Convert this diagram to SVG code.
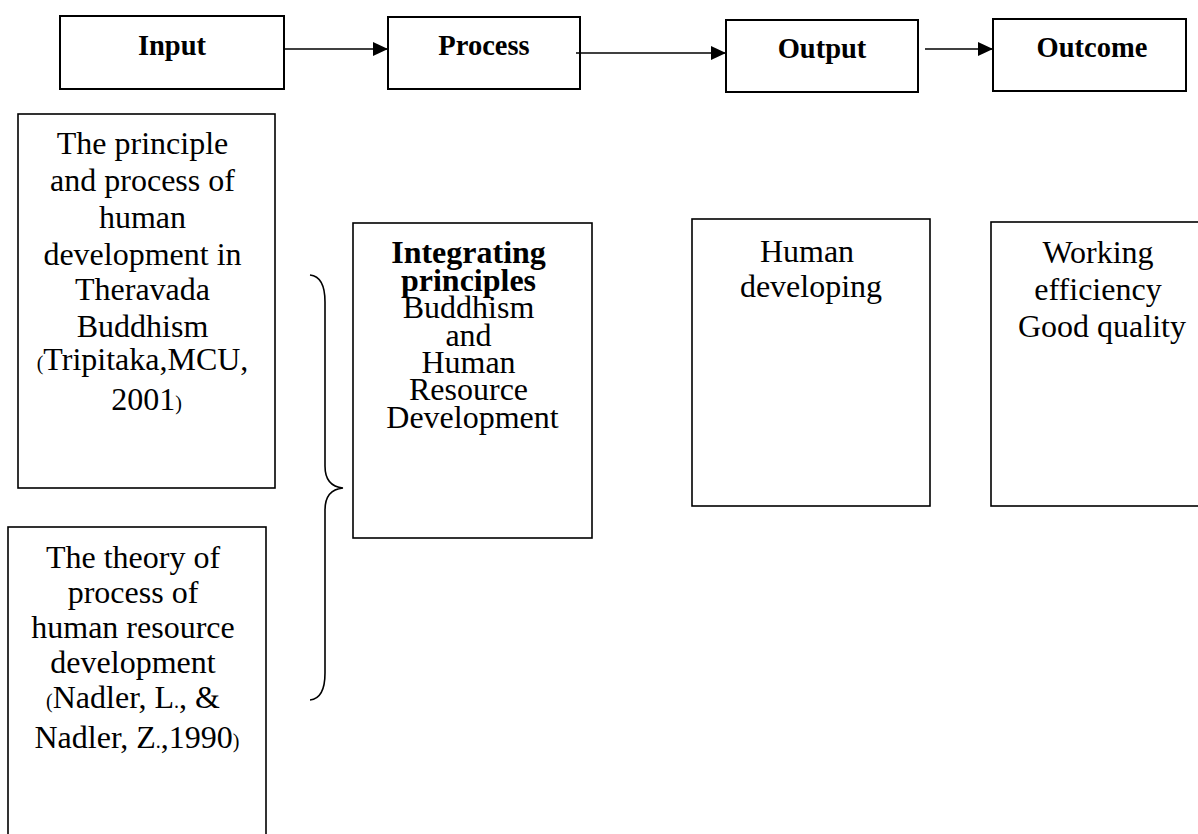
<svg xmlns="http://www.w3.org/2000/svg" width="1198" height="834" viewBox="0 0 1198 834">
<defs>
<style>
.box{fill:#fff;stroke:#000;stroke-width:2}
.tbox{fill:#fff;stroke:#000;stroke-width:1.6}
.hdr{font-family:"Liberation Serif","Times New Roman",serif;font-weight:bold;font-size:28.5px;fill:#000;text-anchor:middle}
.txt{font-family:"Liberation Serif","Times New Roman",serif;font-size:32px;fill:#000;text-anchor:middle}
.b{font-weight:bold}
.sm{font-size:20px}
.conn{stroke:#000;stroke-width:1.6;fill:none}
</style>
<marker id="ah" markerUnits="userSpaceOnUse" markerWidth="16" markerHeight="14" refX="15" refY="7" orient="auto">
<path d="M0,0 L15,7 L0,14 z" fill="#000"/>
</marker>
</defs>
<rect width="1198" height="834" fill="#fff"/>

<g id="input">
<rect class="box" x="60" y="16" width="224" height="73"/>
<text class="hdr" x="172" y="55">Input</text>
</g>
<g id="process">
<rect class="box" x="388" y="17" width="192" height="72"/>
<text class="hdr" x="484" y="55">Process</text>
</g>
<g id="output">
<rect class="box" x="726" y="20" width="192" height="72"/>
<text class="hdr" x="822" y="58">Output</text>
</g>
<g id="outcome">
<rect class="box" x="993" y="19" width="193" height="72"/>
<text class="hdr" x="1092" y="57">Outcome</text>
</g>

<g id="buddhism-input">
<rect class="tbox" x="18" y="114" width="257" height="374"/>
<text class="txt">
<tspan x="146.5" y="154">The principle</tspan>
<tspan x="146.5" y="191">and process of</tspan>
<tspan x="146.5" y="228">human</tspan>
<tspan x="146.5" y="265">development in</tspan>
<tspan x="146.5" y="300">Theravada</tspan>
<tspan x="146.5" y="337">Buddhism</tspan>
<tspan x="146.5" y="370"><tspan class="sm">(</tspan>Tripitaka,MCU,</tspan>
<tspan x="146.5" y="410">2001<tspan class="sm">)</tspan></tspan>
</text>
</g>

<g id="hrd-input">
<rect class="tbox" x="8" y="527" width="258" height="320"/>
<text class="txt">
<tspan x="137" y="568">The theory of</tspan>
<tspan x="137" y="603">process of</tspan>
<tspan x="137" y="638">human resource</tspan>
<tspan x="137" y="673">development</tspan>
<tspan x="137" y="708"><tspan class="sm">(</tspan>Nadler, L<tspan class="sm">.</tspan>, &amp;</tspan>
<tspan x="137" y="748">Nadler, Z<tspan class="sm">.</tspan>,1990<tspan class="sm">)</tspan></tspan>
</text>
</g>

<g id="integrating">
<rect class="tbox" x="353" y="223" width="239" height="315"/>
<text class="txt">
<tspan class="b" x="472.5" y="263">Integrating</tspan>
<tspan class="b" x="472.5" y="291">principles</tspan>
<tspan x="472.5" y="318">Buddhism</tspan>
<tspan x="472.5" y="346">and</tspan>
<tspan x="472.5" y="373">Human</tspan>
<tspan x="472.5" y="400">Resource</tspan>
<tspan x="472.5" y="428">Development</tspan>
</text>
</g>

<g id="human-developing">
<rect class="tbox" x="692" y="219" width="238" height="287"/>
<text class="txt">
<tspan x="811" y="262">Human</tspan>
<tspan x="811" y="297">developing</tspan>
</text>
</g>

<g id="working-efficiency">
<rect class="tbox" x="991" y="222" width="230" height="284"/>
<text class="txt">
<tspan x="1102" y="263">Working</tspan>
<tspan x="1102" y="300">efficiency</tspan>
<tspan x="1102" y="337">Good quality</tspan>
</text>
</g>

<g id="connectors">
<line class="conn" x1="284" y1="49" x2="388" y2="49" marker-end="url(#ah)"/>
<line class="conn" x1="576" y1="53" x2="726" y2="53" marker-end="url(#ah)"/>
<line class="conn" x1="925" y1="49" x2="993" y2="49" marker-end="url(#ah)"/>
<path class="conn" d="M310,275 C320,276 325,285 325,302 L325,466 C325,480 332,487 343,488 C332,489 325,496 325,510 L325,673 C325,690 320,699 310,700"/>
</g>
</svg>
